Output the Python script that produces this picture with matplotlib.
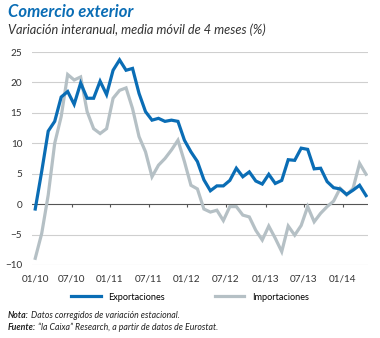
import matplotlib
matplotlib.use('Agg')
import matplotlib.pyplot as plt
import numpy as np

# ---------------- datos (ene-2010 a abr-2014, mensual) ----------------
exportaciones = [-0.8, 5.4, 12.0, 13.6, 17.6, 18.5, 16.4, 19.9, 17.4, 17.4,
                 20.2, 18.0, 22.0, 23.7, 22.0, 22.3, 18.2, 15.2, 13.8, 14.1,
                 13.6, 13.8, 13.6, 10.5, 8.6, 7.0, 4.0, 2.2, 3.0, 3.0,
                 3.9, 5.9, 4.5, 5.3, 3.8, 3.3, 4.9, 3.4, 3.9, 7.3,
                 7.2, 9.2, 9.0, 5.8, 5.9, 3.7, 2.7, 2.5, 1.6, 2.3,
                 3.1, 1.4]
importaciones = [-8.9, -4.8, 1.5, 10.0, 14.4, 21.3, 20.4, 20.9, 15.2, 12.4,
                 11.6, 12.4, 17.4, 18.7, 19.1, 15.7, 11.1, 8.6, 4.5, 6.4,
                 7.5, 8.9, 10.5, 7.0, 3.1, 2.5, -0.8, -1.3, -1.0, -2.7,
                 -0.4, -0.4, -1.8, -2.1, -4.3, -5.9, -3.6, -5.6, -7.8, -3.6,
                 -5.1, -3.5, -0.4, -2.9, -1.5, -0.4, 0.5, 2.6, 1.5, 2.6,
                 6.7, 4.9]
etiquetas_x = ['01/10', '07/10', '01/11', '07/11', '01/12', '07/12', '01/13', '07/13', '01/14']
pos_x = [0, 5.6, 11.5, 17.5, 23.4, 29.4, 35.5, 41.4, 47.4]
ticks_y = [-10, -5, 0, 5, 10, 15, 20, 25]

AZUL = '#0a6db5'
GRIS = '#b5c0c5'
FUENTE = ['Lato', 'DejaVu Sans']
plt.rcParams['font.family'] = FUENTE

fig = plt.figure(figsize=(3.8, 3.38), dpi=100)
ax = fig.add_axes([32/380, 73/338, 336/380, 213/338])

meses = np.arange(len(exportaciones))
for y in ticks_y:
    if y == 0:
        continue
    ax.axhline(y, color='#cfcfcf', lw=0.8, zorder=0)
ax.axhline(0, color='#555555', lw=0.8, zorder=1)
ax.vlines(pos_x, -0.55, 0, color='#555555', lw=0.8, zorder=1)

l1, = ax.plot(meses, exportaciones, color=AZUL, lw=2.3, solid_joinstyle='miter', zorder=3, label='Exportaciones')
l2, = ax.plot(meses, importaciones, color=GRIS, lw=2.3, solid_joinstyle='miter', zorder=2, label='Importaciones')

ax.set_xlim(-0.5, 51.3)
ax.set_ylim(-10, 25)
ax.set_xticks(pos_x)
ax.set_xticklabels(etiquetas_x)
ax.set_yticks(ticks_y)
ax.tick_params(axis='both', length=0, labelsize=7.2, colors='#333333')
ax.tick_params(axis='x', pad=7)
ax.tick_params(axis='y', pad=7)
for s in ax.spines.values():
    s.set_visible(False)

fig.text(8/380, 1 - 12/338, 'Comercio exterior', color=AZUL, fontsize=12,
         fontweight='bold', style='italic', va='center', ha='left')
fig.text(8/380, 1 - 30/338, 'Variación interanual, media móvil de 4 meses (%)',
         color='#333333', fontsize=9.2, style='italic', va='center', ha='left')

fig.legend(handles=[l1, l2], loc='center', bbox_to_anchor=(0.5, 1 - 297/338),
           ncol=2, frameon=False, fontsize=6.6, handlelength=3.2,
           handletextpad=0.8, columnspacing=5.5)

# notas al pie: parte en negrita + resto
renderer = fig.canvas.get_renderer()
def nota(y, negrita, resto):
    t = fig.text(8/380, 1 - y/338, negrita, fontsize=6.3, fontweight='bold',
                 style='italic', color='#222222', va='center', ha='left')
    bb = t.get_window_extent(renderer=renderer)
    fig.text(bb.x1/380 + 2/380, 1 - y/338, resto, fontsize=6.3, style='italic',
             color='#222222', va='center', ha='left')

nota(316, 'Nota:', 'Datos corregidos de variación estacional.')
nota(327, 'Fuente:', '“la Caixa” Research, a partir de datos de Eurostat.')

fig.savefig('out.png', dpi=100)
